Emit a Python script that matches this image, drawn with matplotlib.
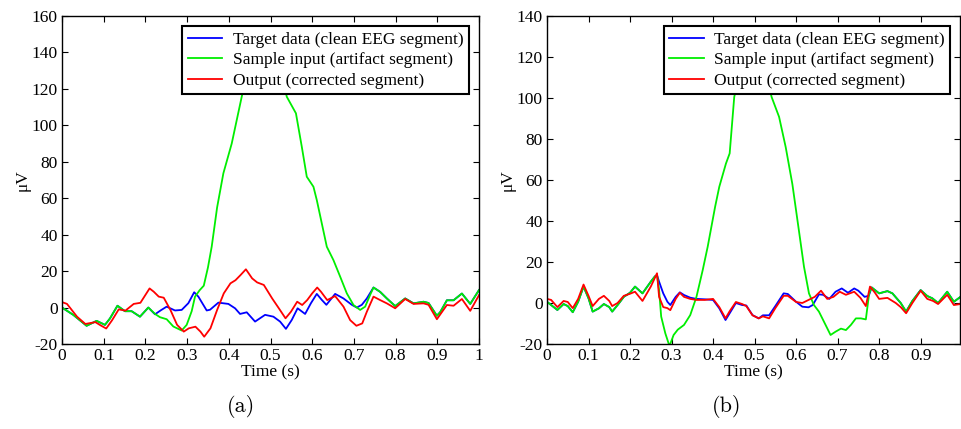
import matplotlib
matplotlib.use("Agg")
import matplotlib.pyplot as plt
from matplotlib.ticker import FuncFormatter

plt.rcParams['font.family'] = ['Liberation Serif', 'DejaVu Serif']
plt.rcParams['axes.unicode_minus'] = False

# ---------------- Panel (a) data ----------------
green_a_t = [0, 0.027, 0.059, 0.083, 0.103, 0.115, 0.133, 0.151, 0.167, 0.187, 0.207, 0.223,
             0.235, 0.251, 0.267, 0.287, 0.299, 0.311, 0.319, 0.33, 0.34, 0.35, 0.359, 0.372,
             0.387, 0.407, 0.431, 0.45, 0.47, 0.49, 0.51, 0.53, 0.539, 0.561, 0.575, 0.587,
             0.603, 0.611, 0.635, 0.651, 0.667, 0.683, 0.699, 0.715, 0.727, 0.739, 0.747,
             0.763, 0.779, 0.799, 0.823, 0.843, 0.867, 0.879, 0.899, 0.907, 0.923, 0.939,
             0.959, 0.979, 1.0]
green_a_v = [0, -4, -10, -7.3, -9.5, -6, 1, -2, -2, -5, 0, -3.5,
             -5.3, -6.4, -10.4, -12.6, -9.5, -2, 6, 9.5, 12, 22, 33.4, 55,
             73.7, 90, 115.7, 135, 148, 152, 145, 125, 115.7, 106.6, 88.3, 71.8,
             66.3, 59, 33.4, 26, 17, 7.8, 1.4, -1.3, 0.5, 7, 11,
             8.6, 5, 0.8, 5, 2.3, 3.2, 2.5, -4.5, -2.5, 4, 4,
             7.7, 2, 9.6]

blue_a_t = [0, 0.027, 0.059, 0.083, 0.103, 0.115, 0.133, 0.151, 0.167, 0.187, 0.207, 0.223,
            0.237, 0.251, 0.271, 0.287, 0.303, 0.317, 0.327, 0.347, 0.355, 0.375, 0.399,
            0.415, 0.427, 0.443, 0.463, 0.487, 0.507, 0.523, 0.537, 0.551, 0.565, 0.583,
            0.597, 0.611, 0.623, 0.634, 0.655, 0.675, 0.695, 0.707, 0.719, 0.731, 0.747,
            0.763, 0.779, 0.799, 0.823, 0.843, 0.867, 0.879, 0.899, 0.907, 0.923, 0.939,
            0.959, 0.979, 1.0]
blue_a_v = [0, -4, -10, -7.3, -9.5, -6, 1, -2, -2, -5, 0, -3.7,
            -1.5, 0.5, -1.6, -1.3, 2.4, 8.4, 6, -1.6, -1.2, 2.7, 2,
            -0.4, -3.5, -2.6, -7.7, -4, -5, -7.7, -11.7, -6.8, -0.4, -3.5,
            2.4, 7.5, 4.2, 1.5, 7.5, 5, 1.5, 0, 1.5, 5, 11,
            8.6, 5, 0.8, 5, 2.3, 3.2, 2.5, -4.5, -2.5, 4, 4,
            7.7, 2, 9.6]

red_a_t = [0, 0.012, 0.036, 0.056, 0.08, 0.092, 0.106, 0.12, 0.136, 0.152, 0.172, 0.188,
           0.21, 0.22, 0.232, 0.244, 0.26, 0.276, 0.292, 0.304, 0.32, 0.332, 0.341, 0.356,
           0.372, 0.388, 0.404, 0.416, 0.428, 0.441, 0.456, 0.468, 0.484, 0.504, 0.52,
           0.536, 0.549, 0.564, 0.576, 0.588, 0.6, 0.612, 0.621, 0.636, 0.655, 0.675,
           0.691, 0.706, 0.72, 0.731, 0.747, 0.763, 0.779, 0.799, 0.823, 0.843, 0.867,
           0.879, 0.899, 0.923, 0.939, 0.959, 0.979, 1.0]
red_a_v = [3, 2, -5, -9, -8, -9.7, -11.5, -7, -1, -1.7, 2, 2.6,
           10.5, 8.7, 6, 5.4, -1.3, -9.5, -13.2, -11.4, -10.5, -13.2, -16, -11.4,
           -1.3, 7.8, 13.3, 15, 17.8, 21, 16, 13.8, 12.4, 5, -0.4,
           -5.9, -2.3, 3.2, 1.4, 4.1, 7.8, 11, 8.7, 4.1, 6.3, 0.5,
           -6.9, -10, -8.7, -2.3, 6, 4.1, 2.3, -0.4, 4.7, 2, 2.3,
           1.5, -6.4, 1.4, 1, 4.7, -1.8, 6.8]

# ---------------- Panel (b) data ----------------
green_b_t = [0, 0.01, 0.025, 0.04, 0.05, 0.062, 0.075, 0.088, 0.1, 0.11, 0.125, 0.137,
             0.15, 0.157, 0.17, 0.185, 0.2, 0.212, 0.23, 0.25, 0.26, 0.265, 0.27, 0.275,
             0.285, 0.295, 0.305, 0.315, 0.33, 0.345, 0.36, 0.375, 0.387, 0.405, 0.415,
             0.431, 0.44, 0.451, 0.47, 0.49, 0.51, 0.53, 0.541, 0.559, 0.575, 0.591,
             0.607, 0.619, 0.631, 0.643, 0.655, 0.671, 0.683, 0.695, 0.708, 0.72, 0.732,
             0.744, 0.756, 0.768, 0.776, 0.782, 0.8, 0.82, 0.832, 0.852, 0.865, 0.88,
             0.9, 0.916, 0.928, 0.942, 0.964, 0.98, 0.996]
green_b_v = [0.6, -1, -3.4, -0.5, -1.5, -4.5, 0.6, 8, 2.3, -4.2, -2.6, -0.5,
             -2, -4.2, -1, 3, 5, 8, 4.7, 10.4, 13, 13.6, 6.3, -6.6,
             -14.8, -21, -15.6, -13, -10.7, -5.9, 3, 16, 27.4, 47, 56.7,
             68, 73, 100.5, 118, 126, 124, 110, 100.5, 90.8, 76, 58,
             35, 17.7, 4.7, -1, -4.2, -10.7, -15.6, -14, -12.5, -13.2, -10.7,
             -7.5, -7.5, -8, 4.7, 7.6, 4.7, 5.8, 4.7, 0, -4.2, 1,
             6.3, 3.4, 2.3, 0, 5.5, 0.6, 3]

blue_b_t = [0, 0.01, 0.025, 0.04, 0.05, 0.062, 0.075, 0.088, 0.1, 0.11, 0.125, 0.137,
            0.15, 0.157, 0.17, 0.185, 0.2, 0.212, 0.23, 0.25, 0.26, 0.265, 0.27, 0.28,
            0.29, 0.297, 0.31, 0.32, 0.33, 0.345, 0.36, 0.38, 0.4, 0.415, 0.43, 0.44,
            0.455, 0.47, 0.48, 0.495, 0.51, 0.52, 0.535, 0.55, 0.57, 0.58, 0.6, 0.615,
            0.63, 0.64, 0.655, 0.665, 0.68, 0.695, 0.71, 0.725, 0.74, 0.75, 0.765,
            0.775, 0.782, 0.8, 0.82, 0.832, 0.852, 0.865, 0.88, 0.9, 0.916, 0.928,
            0.942, 0.964, 0.98, 0.996]
blue_b_v = [0.6, -1, -3.4, -0.5, -1.5, -4.5, 0.6, 8, 2.3, -4.2, -2.6, -0.5,
            -2, -4.2, -1, 3, 5, 8, 4.7, 10.4, 13, 13.6, 10.4, 4.7,
            0.6, -1, 3, 5.2, 3.9, 2.6, 2, 1.8, 1.5, -2.6, -8.3, -5,
            0, -1, -1.2, -5.9, -7.5, -6, -6, -1.5, 4.7, 4.4, 0.6, -1.8,
            -2.1, -1, 4.2, 4, 2, 5.5, 7.1, 5, 7.1, 6, 3,
            3.5, 7.6, 4.7, 5.8, 4.7, 0, -4.2, 1, 6.3, 3.4, 2.3,
            0, 5.5, 0.6, 3]

red_b_t = [0, 0.01, 0.025, 0.04, 0.05, 0.062, 0.075, 0.088, 0.1, 0.11, 0.125, 0.137,
           0.15, 0.157, 0.17, 0.185, 0.2, 0.212, 0.23, 0.25, 0.265, 0.27, 0.28, 0.29,
           0.297, 0.31, 0.32, 0.33, 0.345, 0.36, 0.38, 0.4, 0.415, 0.43, 0.44, 0.455,
           0.47, 0.48, 0.495, 0.51, 0.52, 0.535, 0.55, 0.57, 0.58, 0.6, 0.615, 0.63,
           0.645, 0.66, 0.675, 0.69, 0.705, 0.72, 0.74, 0.755, 0.768, 0.778, 0.79, 0.8,
           0.82, 0.84, 0.852, 0.865, 0.88, 0.9, 0.916, 0.93, 0.942, 0.964, 0.98, 0.996]
red_b_v = [2, 1.5, -2, 1, 0.5, -2.5, 2, 9, 3.5, -1.5, 2, 3.5,
           1, -1.5, 0, 3.5, 4.5, 5.5, 1, 8, 14.5, 3, -2, -2.5,
           -3.5, 2, 5, 3, 2, 1.5, 1.5, 2, -2, -7.5, -4, 0.5,
           -0.5, -1.5, -6, -7.5, -6.5, -7.5, -2.5, 3.5, 3.5, 0.5, 0, 1.5,
           3, 6, 2, 3, 5.5, 4, 5.5, 2.5, -1.5, 8, 5, 2,
           2.5, 0, -2, -5, 0, 6, 2, 1, -0.5, 4, -1, -0.5]

labels = ['Target data (clean EEG segment)',
          'Sample input (artifact segment)',
          'Output (corrected segment)']
colors = ['#0000ff', '#00ee00', '#ff0000']

xticks_a = [0, 0.1, 0.2, 0.3, 0.4, 0.5, 0.6, 0.7, 0.8, 0.9, 1.0]
xticks_b = [0, 0.1, 0.2, 0.3, 0.4, 0.5, 0.6, 0.7, 0.8, 0.9]
yticks_a = [-20, 0, 20, 40, 60, 80, 100, 120, 140, 160]
yticks_b = [-20, 0, 20, 40, 60, 80, 100, 120, 140]

fig = plt.figure(figsize=(9.61, 4.29), dpi=100)
W, H = 961.0, 429.0
ax_a = fig.add_axes([62 / W, (H - 344) / H, 417 / W, 328 / H])
ax_b = fig.add_axes([547 / W, (H - 344) / H, 413.5 / W, 328 / H])

fmt = FuncFormatter(lambda v, p: ('%g' % round(v, 3)))

def style(ax, series, xlim, ylim, xticks, yticks, tag, tag_x):
    for (t, v), c, lab in zip(series, colors, labels):
        ax.plot(t, v, color=c, lw=1.3, label=lab)
    ax.set_xlim(*xlim)
    ax.set_ylim(*ylim)
    ax.set_xticks(xticks)
    ax.set_yticks(yticks)
    ax.xaxis.set_major_formatter(fmt)
    ax.tick_params(direction='in', top=True, right=True, labelsize=12.5,
                   length=4, width=0.8, pad=3, colors='black')
    for s in ax.spines.values():
        s.set_linewidth(1.0)
    ax.set_xlabel('Time (s)', fontsize=12.5, labelpad=0)
    ax.set_ylabel('μV', fontsize=12.5, labelpad=1)
    leg = ax.legend(loc='upper right', fontsize=12.5, frameon=True, fancybox=False,
                    edgecolor='black', framealpha=1, borderaxespad=0.6,
                    handlelength=2.0, handletextpad=0.6, labelspacing=0.25,
                    borderpad=0.3)
    leg.get_frame().set_linewidth(1.5)
    fig.text(tag_x / W, (H - 407) / H, tag, ha='center', va='center',
             fontsize=16, family=['cmr10', 'DejaVu Serif'])

style(ax_a, [(blue_a_t, blue_a_v), (green_a_t, green_a_v), (red_a_t, red_a_v)],
      (0, 1), (-20, 160), xticks_a, yticks_a, '(a)', 241)
style(ax_b, [(blue_b_t, blue_b_v), (green_b_t, green_b_v), (red_b_t, red_b_v)],
      (0, 0.996), (-20, 140), xticks_b, yticks_b, '(b)', 727)

fig.savefig('out.png', dpi=100)
